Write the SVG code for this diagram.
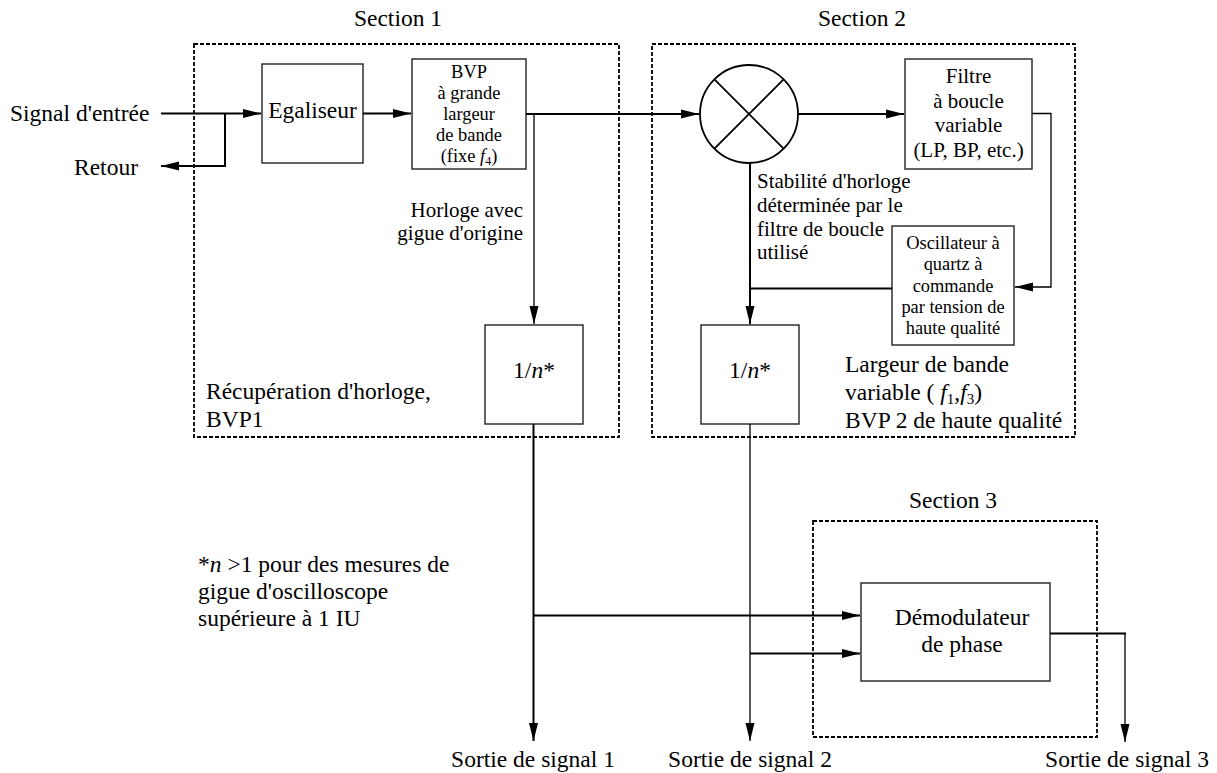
<svg xmlns="http://www.w3.org/2000/svg" width="1217" height="773" viewBox="0 0 1217 773">
<style>
text{font-family:"Liberation Serif","Times New Roman",serif;fill:#000}
.t{font-size:23.5px}
.m{font-size:21px}
.s{font-size:18.4px}
.f{font-size:21px}
.c{text-anchor:middle}
.e{text-anchor:end}
.box{fill:#fff;stroke:#222;stroke-width:1.4}
.sec{fill:none;stroke:#000;stroke-width:1.8;stroke-dasharray:4 2}
.w{fill:none;stroke:#000;stroke-width:2}
.n{fill:none;stroke:#000;stroke-width:1.3}
</style>
<defs>
<marker id="a" markerUnits="userSpaceOnUse" markerWidth="18" markerHeight="10" refX="18" refY="5" orient="auto">
<path d="M0,0.5 L18,5 L0,9.5 z" fill="#000"/>
</marker>
</defs>

<g id="section1">
<rect class="sec" x="194" y="44" width="425" height="393"/>
<text class="t c" x="398" y="26">Section 1</text>
<text class="t" x="206" y="399">Récupération d'horloge,</text>
<text class="t" x="206" y="427">BVP1</text>
</g>
<g id="section2">
<rect class="sec" x="652" y="44" width="423" height="393"/>
<text class="t c" x="862" y="26">Section 2</text>
<text class="t" x="845" y="372">Largeur de bande</text>
<text class="t" x="845" y="400">variable ( <tspan font-style="italic">f</tspan><tspan font-size="15" dy="4">1</tspan><tspan dy="-4">,</tspan><tspan font-style="italic">f</tspan><tspan font-size="15" dy="4">3</tspan><tspan dy="-4">)</tspan></text>
<text class="t" x="845" y="428">BVP 2 de haute qualité</text>
</g>
<g id="section3">
<rect class="sec" x="813" y="521" width="284" height="216"/>
<text class="t c" x="953" y="508">Section 3</text>
</g>

<g id="labels">
<text class="t" x="10" y="121">Signal d'entrée</text>
<text class="t" x="74" y="175">Retour</text>
<text class="m e" x="523" y="217">Horloge avec</text>
<text class="m e" x="523" y="240">gigue d'origine</text>
<text class="m" x="757" y="188">Stabilité d'horloge</text>
<text class="m" x="757" y="212">déterminée par le</text>
<text class="m" x="757" y="236">filtre de boucle</text>
<text class="m" x="757" y="259">utilisé</text>
<text class="t" x="198" y="572">*<tspan font-style="italic">n</tspan> &gt;1 pour des mesures de</text>
<text class="t" x="198" y="599">gigue d'oscilloscope</text>
<text class="t" x="198" y="626">supérieure à 1 IU</text>
<text class="t c" x="533" y="767">Sortie de signal 1</text>
<text class="t c" x="750" y="767">Sortie de signal 2</text>
<text class="t c" x="1127" y="767">Sortie de signal 3</text>
</g>

<g id="egaliseur">
<rect class="box" x="262" y="64" width="101" height="99"/>
<text class="t c" x="312.5" y="118">Egaliseur</text>
</g>
<g id="bvp">
<rect class="box" x="412" y="59" width="114" height="110"/>
<text class="s c" x="469" y="78">BVP</text>
<text class="s c" x="469" y="99">à grande</text>
<text class="s c" x="469" y="120">largeur</text>
<text class="s c" x="469" y="141">de bande</text>
<text class="s c" x="469" y="162">(fixe <tspan font-style="italic">f</tspan><tspan font-size="12" dy="3">4</tspan><tspan dy="-3">)</tspan></text>
</g>
<g id="div1">
<rect class="box" x="485" y="325" width="98" height="99"/>
<text class="t c" x="534" y="378">1/<tspan font-style="italic">n</tspan>*</text>
</g>
<g id="mixer">
<circle cx="749" cy="114" r="49" fill="#fff" stroke="#000" stroke-width="1.8"/>
<path d="M714.4,79.4 L783.6,148.6 M783.6,79.4 L714.4,148.6" stroke="#000" stroke-width="1.8"/>
</g>
<g id="filtre">
<rect class="box" x="905" y="59" width="127" height="110"/>
<text class="f c" x="968.5" y="83">Filtre</text>
<text class="f c" x="968.5" y="108">à boucle</text>
<text class="f c" x="968.5" y="132">variable</text>
<text class="f c" x="968.5" y="157">(LP, BP, etc.)</text>
</g>
<g id="oscillateur">
<rect class="box" x="892" y="226" width="122" height="119"/>
<text class="s c" x="953" y="249">Oscillateur à</text>
<text class="s c" x="953" y="270">quartz à</text>
<text class="s c" x="953" y="292">commande</text>
<text class="s c" x="953" y="313">par tension de</text>
<text class="s c" x="953" y="334">haute qualité</text>
</g>
<g id="div2">
<rect class="box" x="701" y="325" width="98" height="99"/>
<text class="t c" x="750" y="378">1/<tspan font-style="italic">n</tspan>*</text>
</g>
<g id="demodulateur">
<rect class="box" x="861" y="583" width="189" height="98"/>
<text class="t c" x="962" y="625">Démodulateur</text>
<text class="t c" x="962" y="652">de phase</text>
</g>

<g id="connectors">
<path class="w" d="M161,113.5 H261" marker-end="url(#a)"/>
<path class="w" d="M225,113.5 V166 H161" marker-end="url(#a)"/>
<path class="w" d="M363,113.5 H411" marker-end="url(#a)"/>
<path class="w" d="M526,114 H699" marker-end="url(#a)"/>
<path class="n" d="M534,114 V324" marker-end="url(#a)"/>
<path class="w" d="M798,114 H904" marker-end="url(#a)"/>
<path class="n" d="M1032,113.5 H1051 V287 H1015" marker-end="url(#a)"/>
<path class="w" d="M892,288.5 H750"/>
<path class="w" d="M750,163 V324" marker-end="url(#a)"/>
<path class="w" d="M533.5,424 V741" marker-end="url(#a)"/>
<path class="n" d="M750,424 V741" marker-end="url(#a)"/>
<path class="w" d="M533.5,615.5 H860" marker-end="url(#a)"/>
<path class="w" d="M750,653.5 H860" marker-end="url(#a)"/>
<path class="w" d="M1050,633.5 H1126"/>
<path class="n" d="M1125,633.5 V742" marker-end="url(#a)"/>
</g>
</svg>
